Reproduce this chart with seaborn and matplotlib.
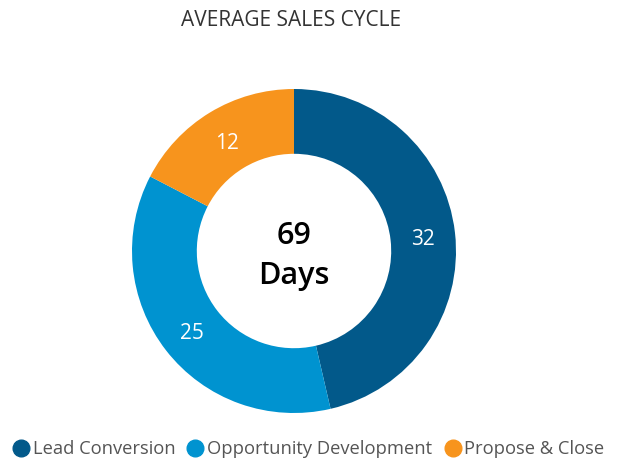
import matplotlib
matplotlib.use("Agg")
import matplotlib.pyplot as plt
import seaborn as sns
from matplotlib.lines import Line2D
import numpy as np

categories = ["Lead Conversion", "Opportunity Development", "Propose & Close"]
values = [32, 25, 12]
colors = ["#02598A", "#0093D0", "#F7941D"]
title = "AVERAGE SALES CYCLE"
center_text = "69\nDays"

sns.set_theme(style="white")
plt.rcParams['font.family'] = ['Open Sans', 'DejaVu Sans']

fig = plt.figure(figsize=(6.17, 4.70), dpi=100)
cx, cy, r = 294, 470 - 251, 162
ax = fig.add_axes([(cx - r) / 617, (cy - r) / 470, 2 * r / 617, 2 * r / 470])

wedges, _ = ax.pie(values, colors=colors, startangle=90, counterclock=False,
                   radius=1, wedgeprops=dict(width=0.40, linewidth=0))
ax.set_xlim(-1, 1)
ax.set_ylim(-1, 1)
ax.set_aspect('equal')
ax.axis('off')

total = sum(values)
start = 90
for v in values:
    span = v / total * 360
    mid = np.deg2rad(start - span / 2)
    ax.text(0.80 * np.cos(mid), 0.80 * np.sin(mid) - 0.02, str(v), ha='center', va='center',
            color='white', fontsize=15)
    start -= span

ax.text(0, -0.03, center_text, ha='center', va='center', fontsize=22, fontweight='semibold',
        color='black', linespacing=1.45)

fig.text(291 / 617, 1 - 20 / 470, title, ha='center', va='center', fontsize=15, color='#333333')

handles = [Line2D([0], [0], marker='o', color='none', markerfacecolor=c, markeredgecolor=c,
                  markersize=12) for c in colors]
fig.legend(handles, categories, loc='center', bbox_to_anchor=(308 / 617, 1 - 449 / 470),
           ncol=3, frameon=False, fontsize=13.2, handletextpad=0.15, columnspacing=0.6,
           handlelength=1.0, labelcolor='#555555')

fig.savefig("out.png", dpi=100)
